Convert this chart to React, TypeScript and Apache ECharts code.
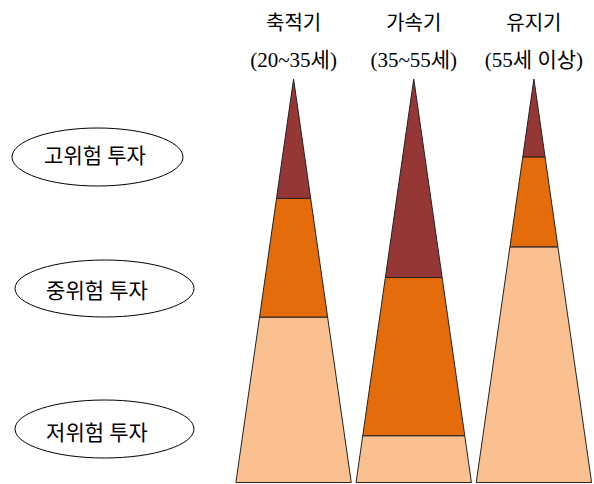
import React, { useEffect, useRef } from "react";
import * as echarts from "echarts";

// Life stages (columns) and their age ranges
const stages = ["축적기", "가속기", "유지기"];
const ageRanges = ["(20~35세)", "(35~55세)", "(55세 이상)"];

// Risk levels, top to bottom, and band shares (% of pyramid height) per stage
const riskLevels = ["고위험 투자", "중위험 투자", "저위험 투자"];
const lowRisk = [41, 11.6, 58.4];
const midRisk = [29.4, 39.2, 22.3];
const highRisk = [29.6, 49.2, 19.3];

const bandColors = ["#FAC090", "#E46C0A", "#953735"]; // low, mid, high

export default function App() {
  const ref = useRef<HTMLDivElement>(null);

  useEffect(() => {
    if (!ref.current) return;
    const chart = echarts.init(ref.current, null, { renderer: "svg" });

    const bands = [lowRisk, midRisk, highRisk];
    const data: number[][] = [];
    stages.forEach((_, i) => {
      let acc = 0;
      bands.forEach((b, k) => {
        data.push([i, acc, acc + b[i], k]);
        acc += b[i];
      });
    });

    const font = "'Liberation Serif', 'Noto Sans CJK KR', serif";

    const ellipses = [
      { cx: 97.5, cy: 157, rx: 85.5, ry: 29, tx: 95, ty: 156 },
      { cx: 104.5, cy: 288.5, rx: 89.5, ry: 28.5, tx: 97, ty: 291 },
      { cx: 104.5, cy: 429, rx: 89.5, ry: 29, tx: 97, ty: 433 },
    ];

    const graphics: any[] = [];
    riskLevels.forEach((name, i) => {
      const e = ellipses[i];
      graphics.push({
        type: "ellipse",
        shape: { cx: e.cx, cy: e.cy, rx: e.rx, ry: e.ry },
        style: { fill: "#fff", stroke: "#000", lineWidth: 1 },
      });
      graphics.push({
        type: "text",
        x: e.tx,
        y: e.ty,
        style: {
          text: name,
          fill: "#000",
          font: `21px ${font}`,
          align: "center",
          verticalAlign: "middle",
        },
      });
    });

    chart.setOption({
      animation: false,
      backgroundColor: "#fff",
      grid: { left: 233.5, right: -8.5, top: 79, bottom: 1.5 },
      xAxis: {
        type: "category",
        data: stages,
        position: "top",
        axisLine: { show: false },
        axisTick: { show: false },
        splitLine: { show: false },
        axisLabel: {
          margin: 0.5,
          interval: 0,
          formatter: (v: string, idx: number) => `{a|${v}}\n{b|${ageRanges[idx]}}`,
          rich: {
            a: { fontSize: 20, lineHeight: 37, color: "#000", fontFamily: font },
            b: { fontSize: 21, lineHeight: 37, color: "#000", fontFamily: font },
          },
        },
      },
      yAxis: {
        type: "value",
        min: 0,
        max: 100,
        show: false,
      },
      graphic: graphics,
      series: [
        {
          type: "custom",
          clip: false,
          data,
          renderItem: (params: any, api: any) => {
            const idx = api.value(0);
            const lo = api.value(1);
            const hi = api.value(2);
            const k = api.value(3);
            const base = api.coord([idx, 0]);
            const cx = base[0];
            const halfW = api.size([1, 0])[0] * 0.48;
            const w = (v: number) => halfW * (1 - v / 100);
            const yLo = api.coord([idx, lo])[1];
            const yHi = api.coord([idx, hi])[1];
            return {
              type: "polygon",
              shape: {
                points: [
                  [cx - w(lo), yLo],
                  [cx + w(lo), yLo],
                  [cx + w(hi), yHi],
                  [cx - w(hi), yHi],
                ],
              },
              style: { fill: bandColors[k], stroke: "#222", lineWidth: 1 },
            };
          },
        },
      ],
    });

    return () => chart.dispose();
  }, []);

  return (
    <div
      ref={ref}
      style={{ position: "fixed", left: 0, top: 0, width: 594, height: 484 }}
    />
  );
}
